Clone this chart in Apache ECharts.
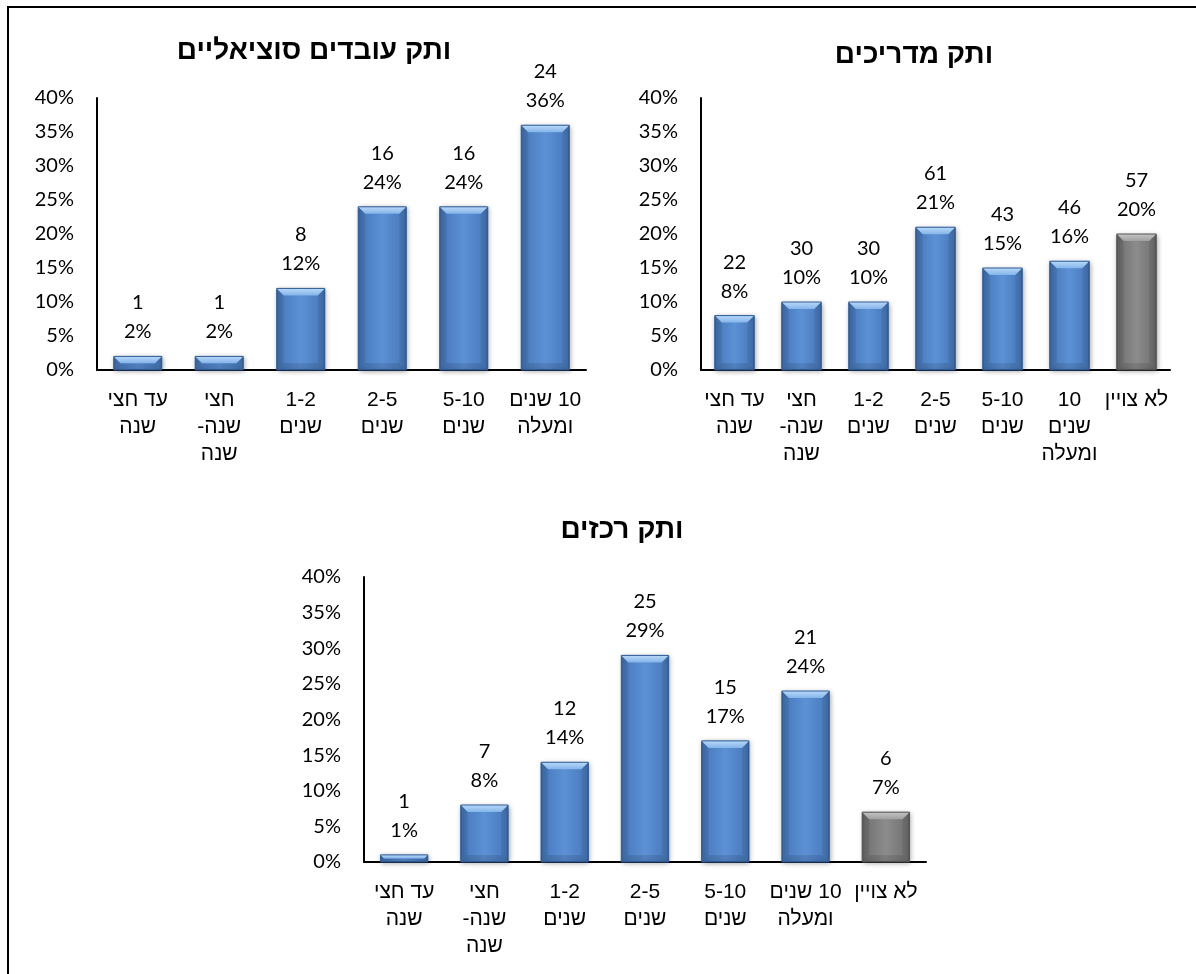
<!DOCTYPE html>
<html><head><meta charset="utf-8">
<script src="https://cdn.jsdelivr.net/npm/echarts@6/dist/echarts.min.js"></script>
<style>html,body{margin:0;padding:0;background:#fff}#c{width:1196px;height:974px}</style>
</head><body><div id="c"></div>
<script>
// ---- data ----
const swTitle = 'ותק עובדים סוציאליים';
const swCategories = ['עד חצי\nשנה', 'חצי\nשנה-\nשנה', '1-2\nשנים', '2-5\nשנים', '5-10\nשנים', '10 שנים\nומעלה'];
const swPercents = [2, 2, 12, 24, 24, 36];
const swCounts = [1, 1, 8, 16, 16, 24];

const guideTitle = 'ותק מדריכים';
const guideCategories = ['עד חצי\nשנה', 'חצי\nשנה-\nשנה', '1-2\nשנים', '2-5\nשנים', '5-10\nשנים', '10\nשנים\nומעלה', 'לא צויין'];
const guidePercents = [8, 10, 10, 21, 15, 16, 20];
const guideCounts = [22, 30, 30, 61, 43, 46, 57];

const coordTitle = 'ותק רכזים';
const coordCategories = ['עד חצי\nשנה', 'חצי\nשנה-\nשנה', '1-2\nשנים', '2-5\nשנים', '5-10\nשנים', '10 שנים\nומעלה', 'לא צויין'];
const coordPercents = [1, 8, 14, 29, 17, 24, 7];
const coordCounts = [1, 7, 12, 25, 15, 21, 6];

const unspecifiedLabel = 'לא צויין';
const yMin = 0, yMax = 40, yStep = 5;

// ---- styles ----
const HEB = "'Liberation Sans', Arial, sans-serif";
const NUM = "Lato, 'Liberation Sans', sans-serif";
const BAR_RATIO = 0.59;

// right-to-left visual order: Hebrew runs, spaces and other runs drawn as separate rich tokens, reversed
function visualRtl(value) {
  return String(value).split('\n').map(line => {
    const runs = line.match(/[\u0590-\u05FF]+(?:\s+[\u0590-\u05FF]+)*|\s+|[^\u0590-\u05FF\s]+/g) || [line];
    return runs.reverse().map(r => '{h|' + r + '}').join('');
  }).join('\n');
}

function hGrad(edge, mid) {
  return { type: 'linear', x: 0, y: 0, x2: 1, y2: 0,
    colorStops: [{ offset: 0, color: edge }, { offset: 0.5, color: mid }, { offset: 1, color: edge }] };
}
const blueStyle = { color: hGrad('#4677b8', '#5c91d6'), borderColor: '#2f5d99', borderWidth: 1,
  shadowBlur: 5, shadowColor: 'rgba(0,0,0,0.35)', shadowOffsetX: 1, shadowOffsetY: 1 };
const grayStyle = { color: hGrad('#6e6e6e', '#8c8c8c'), borderColor: '#555', borderWidth: 1,
  shadowBlur: 5, shadowColor: 'rgba(0,0,0,0.35)', shadowOffsetX: 1, shadowOffsetY: 1 };

function bevel(params, api) {
  const k = api.value(0), v = api.value(1), g = api.value(2);
  const p1 = api.coord([k, v]), p0 = api.coord([k, 0]);
  const w = api.size([1, 0])[0] * BAR_RATIO;
  const x = p1[0] - w / 2, y = p1[1], h = p0[1] - p1[1];
  const b = Math.max(0, Math.min(7, h / 2, w / 2));
  const topFill = { type: 'linear', x: 0, y: 0, x2: 0, y2: 1,
    colorStops: g ? [{ offset: 0, color: '#c4c4c4' }, { offset: 1, color: '#a0a0a0' }]
                  : [{ offset: 0, color: '#b9d9f8' }, { offset: 1, color: '#84b4ea' }] };
  return { type: 'group', children: [
    { type: 'polygon', shape: { points: [[x, y], [x + b, y + b], [x + b, y + h - b], [x, y + h]] }, style: { fill: 'rgba(0,0,0,0.08)' } },
    { type: 'polygon', shape: { points: [[x + w, y], [x + w - b, y + b], [x + w - b, y + h - b], [x + w, y + h]] }, style: { fill: 'rgba(0,0,0,0.08)' } },
    { type: 'polygon', shape: { points: [[x, y + h], [x + b, y + h - b], [x + w - b, y + h - b], [x + w, y + h]] }, style: { fill: 'rgba(0,0,0,0.10)' } },
    { type: 'polygon', shape: { points: [[x, y], [x + w, y], [x + w - b, y + b], [x + b, y + b]] }, style: { fill: topFill } },
    { type: 'rect', shape: { x: x, y: y, width: w, height: h }, style: { fill: 'none', stroke: g ? '#555' : '#2f5d99', lineWidth: 1 } }
  ] };
}

const charts = [
  { title: swTitle, cats: swCategories, pcts: swPercents, counts: swCounts,
    grid: { left: 97, top: 98, width: 489, height: 272 }, titlePos: { left: 309, top: 32 } },
  { title: guideTitle, cats: guideCategories, pcts: guidePercents, counts: guideCounts,
    grid: { left: 701, top: 98, width: 469, height: 272 }, titlePos: { left: 909, top: 36 } },
  { title: coordTitle, cats: coordCategories, pcts: coordPercents, counts: coordCounts,
    grid: { left: 364, top: 577, width: 562, height: 285 }, titlePos: { left: 617, top: 511 } }
];

const option = {
  backgroundColor: '#fff',
  animation: false,
  graphic: [{ type: 'rect', shape: { x: 8, y: 7, width: 1400, height: 1200 },
    style: { fill: 'none', stroke: '#000', lineWidth: 2 }, silent: true }],
  title: charts.map(c => ({ text: c.title, left: c.titlePos.left, top: c.titlePos.top, textAlign: 'center',
    textStyle: { fontFamily: HEB, fontSize: 28, fontWeight: 'bold', color: '#000' } })),
  grid: charts.map(c => Object.assign({ containLabel: false }, c.grid)),
  xAxis: charts.map((c, i) => ({ type: 'category', gridIndex: i, data: c.cats,
    axisLine: { lineStyle: { color: '#000', width: 2 } }, axisTick: { show: false },
    axisLabel: { interval: 0, fontFamily: HEB, fontSize: 21, lineHeight: 27, color: '#000', margin: 17,
      formatter: visualRtl,
      rich: { h: { fontFamily: HEB, fontSize: 21, lineHeight: 27, color: '#000' } } } })),
  yAxis: charts.map((c, i) => ({ type: 'value', gridIndex: i, min: yMin, max: yMax, interval: yStep,
    axisLine: { show: true, lineStyle: { color: '#000', width: 2 } }, axisTick: { show: false },
    splitLine: { show: false },
    axisLabel: { formatter: '{value}%', fontFamily: NUM, fontSize: 20, color: '#000', margin: 23 } })),
  series: []
};

charts.forEach((c, i) => {
  option.series.push({
    type: 'bar', xAxisIndex: i, yAxisIndex: i, barWidth: (BAR_RATIO * 100) + '%',
    data: c.pcts.map((v, k) => ({ value: v, itemStyle: c.cats[k] === unspecifiedLabel ? grayStyle : blueStyle })),
    label: { show: true, position: 'top', distance: 10, color: '#000', fontFamily: NUM, fontSize: 20, lineHeight: 29,
      formatter: p => c.counts[p.dataIndex] + '\n' + p.value + '%' }
  });
  option.series.push({
    type: 'custom', xAxisIndex: i, yAxisIndex: i, silent: true, z: 3,
    data: c.pcts.map((v, k) => [k, v, c.cats[k] === unspecifiedLabel ? 1 : 0]),
    renderItem: bevel
  });
});

const chart = echarts.init(document.getElementById('c'), null, { renderer: 'canvas' });
chart.setOption(option);
</script>
</body></html>
